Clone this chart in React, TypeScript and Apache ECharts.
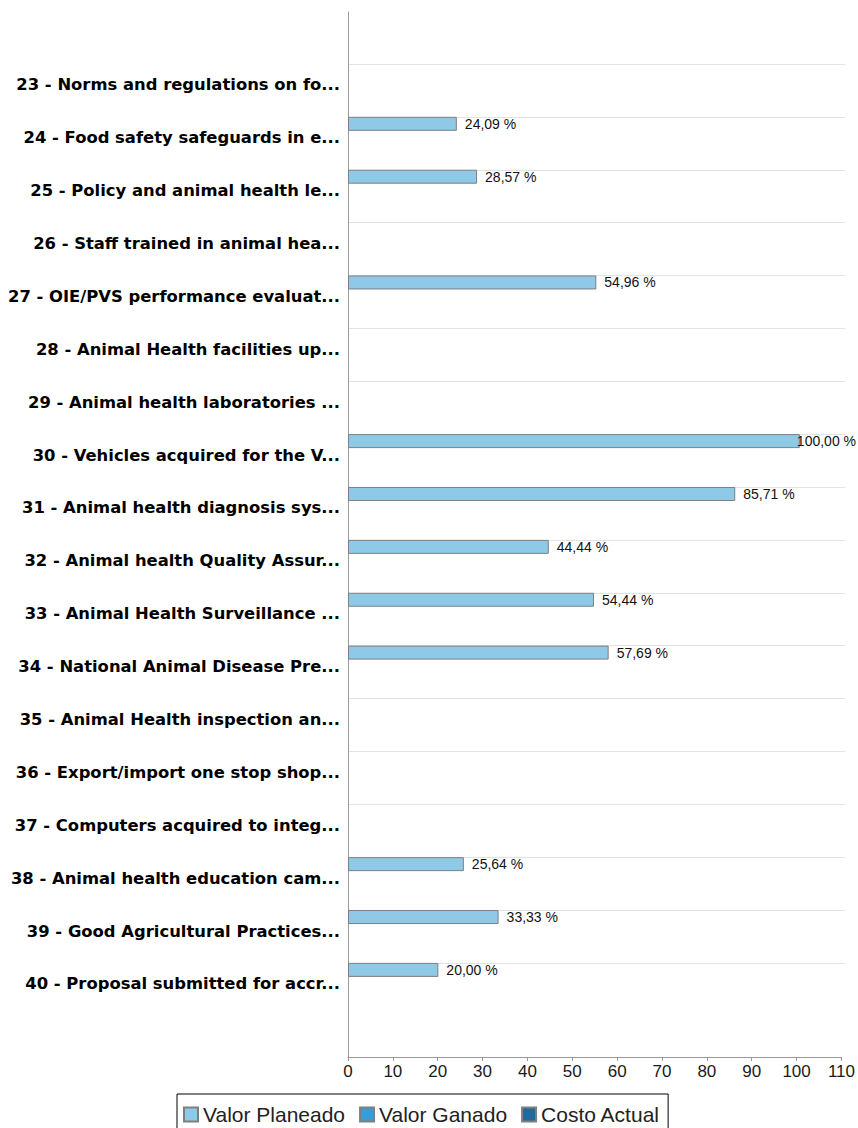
import React, { useEffect, useRef } from "react";
import * as echarts from "echarts";

const categories: string[] = [
  "23 - Norms and regulations on fo...",
  "24 - Food safety safeguards in e...",
  "25 - Policy and animal health le...",
  "26 - Staff trained in animal hea...",
  "27 - OIE/PVS performance evaluat...",
  "28 - Animal Health facilities up...",
  "29 - Animal health laboratories ...",
  "30 - Vehicles acquired for the V...",
  "31 - Animal health diagnosis sys...",
  "32 - Animal health Quality Assur...",
  "33 - Animal Health Surveillance ...",
  "34 - National Animal Disease Pre...",
  "35 - Animal Health inspection an...",
  "36 - Export/import one stop shop...",
  "37 - Computers acquired to integ...",
  "38 - Animal health education cam...",
  "39 - Good Agricultural Practices...",
  "40 - Proposal submitted for accr...",
];

const valorPlaneado: number[] = [
  0, 24.09, 28.57, 0, 54.96, 0, 0, 100, 85.71, 44.44, 54.44, 57.69, 0, 0, 0, 25.64, 33.33, 20.0,
];
const valorGanado: number[] = [0, 0, 0, 0, 0, 0, 0, 0, 0, 0, 0, 0, 0, 0, 0, 0, 0, 0];
const costoActual: number[] = [0, 0, 0, 0, 0, 0, 0, 0, 0, 0, 0, 0, 0, 0, 0, 0, 0, 0];

const seriesNames = ["Valor Planeado", "Valor Ganado", "Costo Actual"];
const xTicks = { min: 0, max: 110, interval: 10 };

export default function App() {
  const ref = useRef<HTMLDivElement>(null);
  useEffect(() => {
    if (!ref.current) return;
    const chart = echarts.init(ref.current, undefined, { renderer: "svg" });
    const W = 858;
    const L = 348;
    const R = 13;
    const band = 52.88;
    const n = categories.length;
    const fmt = (v: number) => (v ? v.toFixed(2).replace(".", ",") + " %" : "");
    const mkSeries = (name: string, data: number[], color: string) => ({
      name,
      type: "bar",
      xAxisIndex: 0,
      yAxisIndex: 0,
      // zero values draw no bar (no border sliver on the axis)
      data: data.map((v) => (v === 0 ? null : v)),
      barWidth: 14,
      barGap: "0%",
      itemStyle: { color, borderColor: "#7f7f7f", borderWidth: 1 },
      label: {
        show: true,
        position: "right",
        distance: 8,
        formatter: (p: any) => fmt(p.value),
        fontFamily: "Liberation Sans, Arial, sans-serif",
        fontSize: 14,
        color: "#111",
      },
      labelLayout: (p: any) => {
        const r = p.labelRect;
        if (r && r.x + r.width > W - 2) {
          return { x: W - 2 - r.width, y: r.y, align: "left", verticalAlign: "top" };
        }
        return {};
      },
    });
    chart.setOption({
      animation: false,
      backgroundColor: "#ffffff",
      grid: [
        { left: L, right: R, top: 64 - 5.5, height: band * n, containLabel: false },
        { left: L, right: R, top: 12, height: 1045, containLabel: false },
        { left: L, right: R, top: 64, height: band * (n - 1), containLabel: false },
      ],
      xAxis: [
        { gridIndex: 0, type: "value", min: xTicks.min, max: xTicks.max, interval: xTicks.interval, show: false },
        {
          gridIndex: 1,
          type: "value",
          min: xTicks.min,
          max: xTicks.max,
          interval: xTicks.interval,
          axisLine: { show: true, lineStyle: { color: "#999999", width: 1 } },
          axisTick: { show: true, length: 4, lineStyle: { color: "#999999" } },
          axisLabel: {
            show: true,
            margin: 6,
            fontFamily: "Liberation Sans, Arial, sans-serif",
            fontSize: 17,
            color: "#1a1a1a",
          },
          splitLine: { show: false },
        },
        { gridIndex: 2, type: "value", min: 0, max: 1, show: false },
      ],
      yAxis: [
        {
          gridIndex: 0,
          type: "category",
          inverse: true,
          data: categories,
          axisLine: { show: false },
          axisTick: { show: false },
          splitLine: { show: false },
          axisLabel: {
            margin: 8,
            fontFamily: "DejaVu Sans, sans-serif",
            fontWeight: "bold",
            fontSize: 16.4,
            color: "#000000",
          },
        },
        {
          gridIndex: 1,
          type: "value",
          min: 0,
          max: 1,
          axisLine: { show: true, lineStyle: { color: "#999999", width: 1 } },
          axisTick: { show: false },
          axisLabel: { show: false },
          splitLine: { show: false },
        },
        {
          gridIndex: 2,
          type: "value",
          inverse: true,
          min: 0,
          max: n - 1,
          interval: 1,
          axisLine: { show: false },
          axisTick: { show: false },
          axisLabel: { show: false },
          splitLine: { show: true, lineStyle: { color: "#e2e2e2", width: 1 } },
        },
      ],
      legend: {
        data: seriesNames,
        left: 177,
        top: 1094,
        orient: "horizontal",
        borderColor: "#000000",
        borderWidth: 1,
        padding: [10, 8, 10, 6],
        itemWidth: 14,
        itemHeight: 14,
        itemGap: 14,
        icon: "rect",
        textStyle: {
          fontFamily: "Liberation Sans, Arial, sans-serif",
          fontSize: 21,
          color: "#222222",
        },
      },
      series: [
        mkSeries(seriesNames[0], valorPlaneado, "#8ecae8"),
        mkSeries(seriesNames[1], valorGanado, "#3b9bd8"),
        mkSeries(seriesNames[2], costoActual, "#1f6b9c"),
      ],
    });
    return () => chart.dispose();
  }, []);
  return (
    <div
      ref={ref}
      style={{ position: "absolute", left: 0, top: 0, width: 858, height: 1128 }}
    />
  );
}
